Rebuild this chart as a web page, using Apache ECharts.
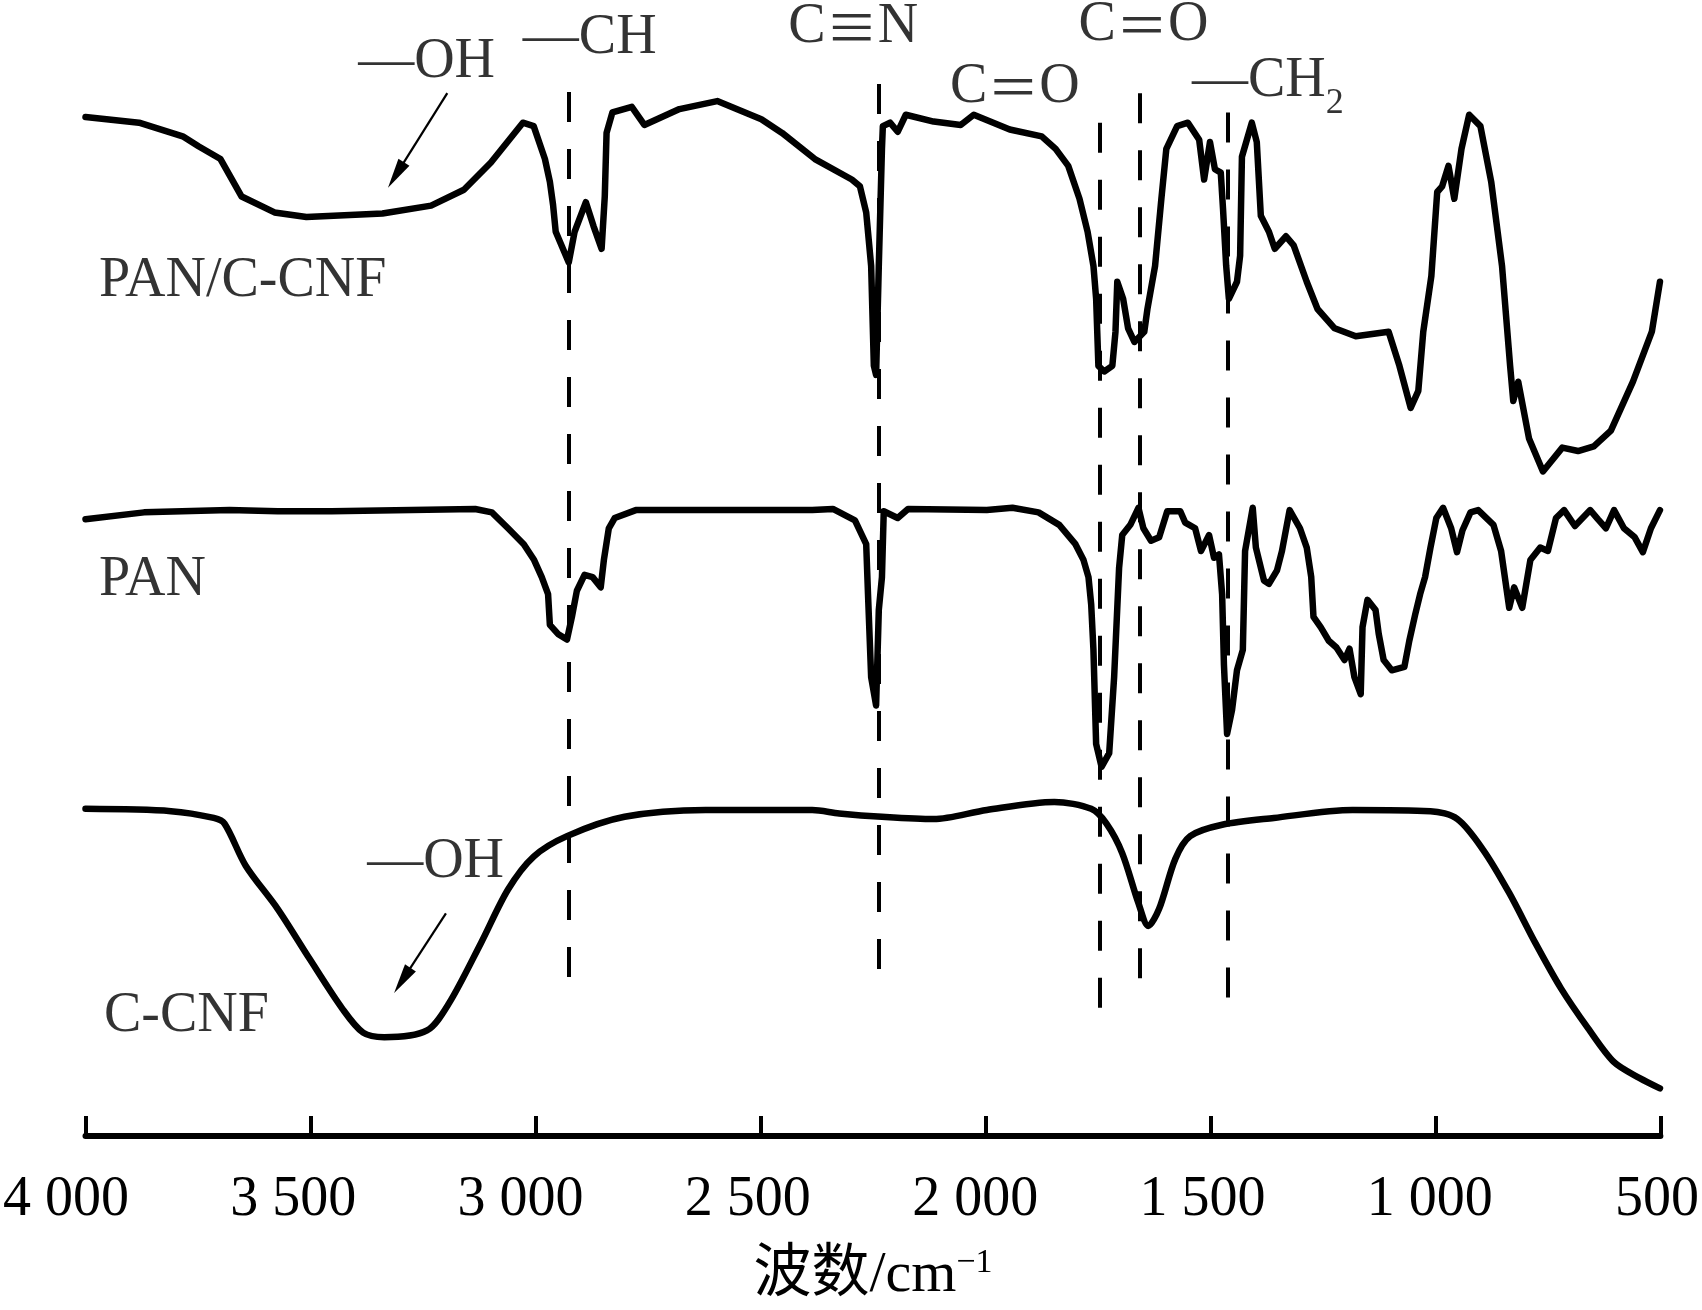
<!DOCTYPE html>
<html>
<head>
<meta charset="utf-8">
<script src="https://cdn.jsdelivr.net/npm/echarts@6/dist/echarts.min.js"></script>
<style>
  html, body { margin: 0; padding: 0; background: #fff; }
  #chart { width: 1702px; height: 1310px; }
</style>
</head>
<body>
<div id="chart"></div>
<script>
// wavenumber (cm-1) and transmittance (a.u., curves offset)
var wnPanCcnf = [4000, 3881, 3784, 3748, 3700, 3653, 3580, 3509, 3340, 3232, 3159, 3099, 3028, 3004, 2979, 2968, 2961, 2955, 2926, 2913,
    2888, 2871, 2853, 2846, 2842, 2829, 2786, 2758, 2680, 2596, 2498, 2452, 2379, 2297, 2279, 2265, 2254, 2248, 2243, 2237,
    2230, 2228, 2212, 2195, 2177, 2115, 2055, 2026, 1946, 1875, 1844, 1816, 1791, 1773, 1760, 1754, 1749, 1736, 1718, 1711,
    1707, 1694, 1683, 1669, 1647, 1640, 1623, 1609, 1598, 1574, 1550, 1525, 1514, 1501, 1490, 1477, 1472, 1465, 1459, 1441,
    1434, 1430, 1419, 1408, 1397, 1388, 1370, 1357, 1332, 1315, 1286, 1262, 1224, 1177, 1104, 1080, 1055, 1038, 1027, 1009,
    996, 985, 971, 958, 942, 925, 900, 876, 852, 834, 827, 816, 792, 761, 718, 683, 648, 610, 561, 519, 501]
var tPanCcnf = [89.7, 89.2, 88.0, 87.1, 86.0, 82.7, 81.3, 80.9, 81.2, 81.9, 83.3, 85.7, 89.2, 88.9, 86.0, 84.0, 82.0, 79.6, 76.9, 79.6,
    82.2, 80.1, 78.1, 82.7, 88.3, 90.1, 90.6, 89.0, 90.4, 91.1, 89.5, 88.3, 86.0, 84.2, 83.6, 81.3, 76.6, 67.8, 67.0, 76.6,
    86.9, 88.9, 89.2, 88.4, 89.9, 89.3, 89.0, 89.9, 88.6, 88.0, 86.9, 85.4, 82.5, 79.6, 76.6, 73.7, 67.8, 67.3, 67.8, 70.8,
    75.2, 73.7, 71.1, 69.9, 70.8, 72.8, 76.6, 82.5, 86.9, 88.9, 89.2, 87.7, 84.2, 87.5, 85.1, 84.8, 81.6, 76.6, 73.7, 75.2,
    77.5, 86.2, 87.7, 89.2, 87.5, 81.0, 79.6, 78.1, 79.2, 78.4, 75.2, 72.8, 71.1, 70.4, 70.8, 67.8, 64.1, 65.6, 70.8, 75.7,
    83.1, 83.6, 85.4, 82.5, 86.9, 89.9, 88.9, 84.0, 76.6, 67.8, 64.7, 66.4, 61.4, 58.5, 60.6, 60.3, 60.7, 62.1, 66.4, 70.8, 75.2]

var wnPan = [4000, 3870, 3680, 3573, 3453, 3134, 3097, 3061, 3026, 3003, 2986, 2972, 2968, 2950, 2930, 2919, 2908, 2891, 2873, 2855,
    2848, 2837, 2824, 2777, 2622, 2385, 2339, 2290, 2265, 2261, 2254, 2243, 2237, 2230, 2226, 2195, 2172, 1997, 1940, 1882,
    1836, 1800, 1782, 1771, 1765, 1760, 1754, 1742, 1725, 1714, 1703, 1696, 1678, 1660, 1649, 1632, 1614, 1596, 1567, 1556,
    1534, 1521, 1503, 1492, 1481, 1474, 1470, 1463, 1452, 1441, 1428, 1423, 1406, 1399, 1381, 1370, 1352, 1341, 1324, 1301,
    1286, 1276, 1271, 1255, 1237, 1220, 1202, 1191, 1180, 1166, 1162, 1151, 1133, 1126, 1115, 1097, 1069, 1058, 1045, 1034,
    1023, 1011, 998, 983, 965, 952, 940, 922, 905, 871, 854, 836, 825, 807, 789, 767, 750, 732, 714, 690,
    656, 639, 621, 603, 581, 557, 539, 521, 501]
var tPan = [54.3, 54.9, 55.1, 55.0, 55.0, 55.2, 54.9, 53.5, 52.1, 50.7, 49.2, 47.7, 45.0, 44.2, 43.7, 45.7, 48.0, 49.4, 49.2, 48.3,
    50.7, 53.5, 54.4, 55.1, 55.1, 55.1, 55.2, 54.2, 52.1, 47.7, 40.4, 37.9, 46.3, 49.2, 55.0, 54.4, 55.2, 55.1, 55.3, 54.9,
    53.8, 52.1, 50.7, 49.2, 46.8, 42.8, 34.5, 32.5, 33.7, 40.4, 50.0, 52.9, 53.8, 55.3, 53.5, 52.4, 52.7, 55.0, 55.0, 54.0,
    53.5, 51.5, 52.9, 50.9, 51.2, 47.7, 41.5, 35.4, 37.5, 41.0, 42.8, 51.5, 55.3, 51.8, 48.9, 48.6, 49.8, 51.5, 55.1, 53.5,
    51.8, 49.2, 45.7, 44.8, 43.6, 43.0, 41.9, 42.9, 40.4, 38.9, 44.8, 47.2, 46.3, 44.2, 41.9, 41.0, 41.3, 43.6, 45.9, 47.7,
    49.2, 51.8, 54.4, 55.3, 53.5, 51.4, 53.3, 54.9, 55.1, 53.8, 51.5, 46.5, 48.3, 46.5, 50.7, 51.8, 51.5, 54.4, 55.1, 53.7,
    55.1, 54.3, 53.5, 55.1, 53.5, 52.7, 51.4, 53.5, 55.1]

var wnCcnf = [4000, 3810, 3715, 3691, 3644, 3573, 3502, 3429, 3383, 3336, 3241, 3192, 3121, 3061, 3004, 2930, 2802, 2622, 2385, 2325,
    2230, 2115, 1997, 1847, 1765, 1731, 1696, 1660, 1638, 1614, 1578, 1545, 1474, 1359, 1184, 1011, 951, 894, 836, 778,
    721, 661, 603, 546, 501]
var tCcnf = [28.8, 28.6, 28.0, 27.5, 23.8, 20.0, 15.6, 11.2, 9.1, 8.7, 9.3, 11.7, 17.0, 21.7, 24.6, 26.4, 28.1, 28.7, 28.7, 28.4,
    28.1, 27.9, 28.7, 29.4, 28.8, 27.5, 24.9, 20.5, 18.5, 20.0, 24.4, 26.4, 27.4, 28.0, 28.7, 28.6, 27.9, 25.2, 21.4, 17.0,
    13.0, 9.5, 6.5, 5.1, 4.2]

var xTicks = [4000, 3500, 3000, 2500, 2000, 1500, 1000, 500]

// dashed band guides: wavenumber, upper and lower end
var bandWn = [2926, 2238, 1747, 1658, 1461]
var bandTop = [91.9, 92.6, 89.2, 91.8, 90.1]
var bandBottom = [12.1, 13.1, 9.7, 12.2, 12.2]

// annotation texts, anchored at their left edge
var noteTexts = ['—OH', '—CH', 'C{b|≡}N', 'C{b|＝}O', 'C{b|＝}O', '—CH{s|2}', '—OH', 'PAN/C-CNF', 'PAN', 'C-CNF']
var noteWn = [3394, 3028, 2438, 2079, 1793, 1541, 3374, 3970, 3970, 3959]
var noteT = [94.5, 96.6, 97.6, 92.3, 97.8, 92.8, 24.1, 75.2, 48.9, 10.5]

var arrowFrom = [[3196, 91.8], [3199, 19.6]]
var arrowTo = [[3310, 84.6], [3296, 13.7]]

var serif = "'Liberation Serif', 'Times New Roman', 'Noto Sans CJK SC', serif"

function zip(xs, ys) {
    return xs.map(function(x, i) { return [x, ys[i]] })
}

// the printed tick numbers drift a little left of their ticks, more so on the left
var tickRich = {}
xTicks.forEach(function(v, i) {
    tickRich['t' + i] = { padding: [0, 39 - 4.6 * i, 0, 0], fontFamily: serif, fontSize: 56, color: '#000' }
})

var chart = echarts.init(document.getElementById('chart'))

var lineStyle = { color: '#000', width: 6.5, join: 'round', cap: 'round' }

var bandLines = bandWn.map(function(w, i) {
    return [{ coord: [w, bandTop[i]] }, { coord: [w, bandBottom[i]] }]
})

var arrowLines = arrowFrom.map(function(p, i) {
    return [{ coord: p, symbol: 'none' },
        { coord: arrowTo[i], symbol: 'path://M5 0L10 30L0 30Z', symbolSize: [13, 30] }]
})

var option = {
    backgroundColor: '#fff',
    animation: false,
    grid: { left: 81.4, right: 41.2, top: 0, bottom: 166 },
    xAxis: {
        type: 'value',
        inverse: true,
        min: 500,
        max: 4000,
        interval: 500,
        splitLine: { show: false },
        axisLine: { lineStyle: { color: '#000', width: 6 } },
        axisTick: { inside: true, length: 20, lineStyle: { color: '#000', width: 4 } },
        axisLabel: {
            color: '#000',
            fontFamily: serif,
            fontSize: 56,
            margin: 33,
            formatter: function(v) {
                var s = String(v)
                var i = xTicks.indexOf(v)
                var txt = s.length > 3 ? s.slice(0, s.length - 3) + ' ' + s.slice(-3) : s
                return '{t' + i + '|' + txt + '}'
            },
            rich: tickRich
        },
        name: '{a|波数/cm}{b|−1}',
        nameLocation: 'middle',
        nameGap: 107,
        nameTextStyle: {
            color: '#000',
            fontFamily: serif,
            rich: {
                a: { fontSize: 58, lineHeight: 60, fontFamily: serif, color: '#000' },
                b: { fontSize: 34, lineHeight: 34, verticalAlign: 'top', fontFamily: serif, color: '#000' }
            }
        }
    },
    yAxis: { type: 'value', show: false, min: -0.26, max: 100 },
    series: [{
        name: 'PAN/C-CNF',
        type: 'line',
        showSymbol: false,
        symbol: 'none',
        lineStyle: lineStyle,
        data: zip(wnPanCcnf, tPanCcnf),
        markLine: {
            silent: true,
            symbol: 'none',
            label: { show: false },
            lineStyle: { color: '#000', width: 4, type: [30, 27] },
            data: bandLines
        }
    }, {
        name: 'PAN',
        type: 'line',
        showSymbol: false,
        symbol: 'none',
        lineStyle: lineStyle,
        data: zip(wnPan, tPan),
        markLine: {
            silent: true,
            label: { show: false },
            lineStyle: { color: '#000', width: 2.2, type: 'solid' },
            itemStyle: { color: '#000' },
            data: arrowLines
        }
    }, {
        name: 'C-CNF',
        type: 'line',
        showSymbol: false,
        symbol: 'none',
        smooth: 0.3,
        lineStyle: lineStyle,
        data: zip(wnCcnf, tCcnf)
    }, {
        name: 'notes',
        type: 'scatter',
        symbolSize: 0,
        silent: true,
        data: noteWn.map(function(w, i) { return { value: [w, noteT[i]], text: noteTexts[i] } }),
        label: {
            show: true,
            position: 'right',
            distance: 0,
            color: '#000',
            fontFamily: serif,
            fontSize: 56,
            formatter: function(p) { return p.data.text },
            rich: {
                b: { fontFamily: "'Noto Sans CJK SC'", fontSize: 52, color: '#000' },
                s: { fontSize: 36, lineHeight: 36, verticalAlign: 'bottom', padding: [0, 0, -12, 0], fontFamily: serif, color: '#000' }
            }
        }
    }]
}

chart.setOption(option)
</script>
</body>
</html>
